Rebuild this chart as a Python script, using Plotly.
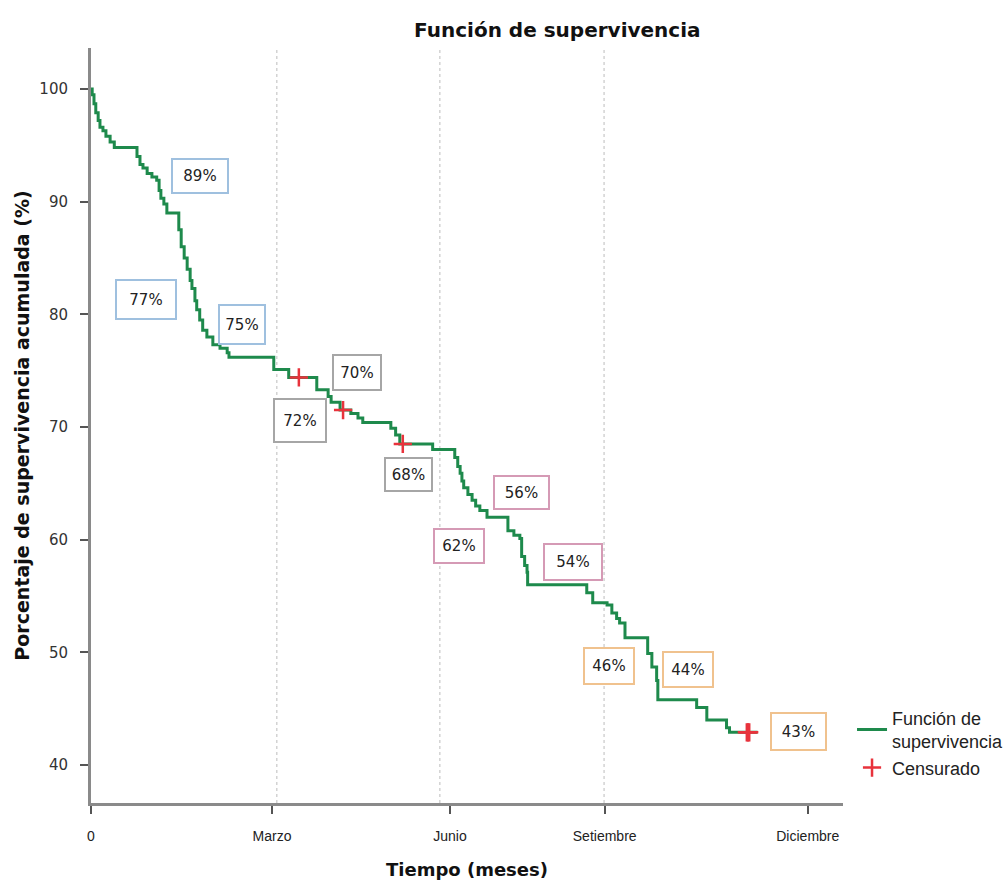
import plotly.graph_objects as go

# ---- data (time in months, survival in %) ----
time_months = [0.00, 0.02, 0.05, 0.08, 0.12, 0.15, 0.20, 0.25, 0.32, 0.39,
               0.77, 0.82, 0.87, 0.94, 1.02, 1.10, 1.14, 1.17, 1.22, 1.27,
               1.47, 1.51, 1.56, 1.61, 1.66, 1.69, 1.74, 1.77, 1.82, 1.87,
               1.94, 2.04, 2.16, 2.28, 2.31, 3.06, 3.31, 3.78, 3.97, 4.02,
               4.17, 4.35, 4.47, 4.55, 5.02, 5.10, 5.17, 5.72, 6.09, 6.14,
               6.18, 6.21, 6.24, 6.31, 6.38, 6.44, 6.51, 6.63, 6.98, 7.08,
               7.18, 7.21, 7.26, 7.30, 7.31, 8.30, 8.40, 8.64, 8.72, 8.80,
               8.85, 8.94, 9.32, 9.39, 9.47, 9.49, 10.14, 10.31, 10.64, 10.69,
               11.16]
survival = [100.0, 99.5, 98.7, 97.9, 97.2, 96.6, 96.3, 95.8, 95.3, 94.8,
            94.0, 93.3, 93.0, 92.5, 92.2, 91.9, 91.0, 90.3, 89.8, 89.0,
            87.5, 86.0, 85.0, 84.0, 83.0, 82.3, 81.2, 80.4, 79.5, 78.6,
            78.0, 77.3, 77.0, 76.6, 76.2, 75.1, 74.4, 73.3, 72.7, 72.2,
            71.5, 71.2, 70.8, 70.4, 69.9, 69.3, 68.5, 68.0, 67.3, 66.5,
            65.9, 65.2, 64.6, 64.0, 63.5, 63.0, 62.6, 62.0, 60.8, 60.4,
            60.1, 58.5, 57.7, 57.1, 56.0, 55.3, 54.4, 54.2, 53.5, 53.0,
            52.6, 51.3, 49.9, 48.7, 47.5, 45.8, 45.1, 44.0, 43.3, 42.9,
            42.9]

censor_months = [3.48, 4.22, 5.22, 10.98, 11.00, 11.02]
censor_surv = [74.4, 71.5, 68.5, 42.9, 42.9, 42.9]

label_texts = ["89%", "77%", "75%", "70%", "72%", "68%",
               "56%", "62%", "54%", "46%", "44%", "43%"]
label_x = [1.82, 0.92, 2.53, 4.45, 3.50, 5.32, 7.21, 6.16, 8.07, 8.67, 9.99, 11.85]
label_y = [92.3, 81.3, 79.1, 74.8, 70.6, 65.8, 64.2, 59.4, 58.0, 48.8, 48.5, 43.0]

tick_vals = [0, 3.03, 6.01, 8.60, 12.0]
tick_text = ["0", "Marzo", "Junio", "Setiembre", "Diciembre"]
grid_x = [3.11, 5.84, 8.59]

# ---- styles ----
box_colors = ["#9fc0df"] * 3 + ["#a6a6a6"] * 3 + ["#d59ab5"] * 3 + ["#f0c28e"] * 3
box_w = [48, 52, 38, 40, 44, 39, 47, 42, 50, 42, 42, 47]
box_h = [26, 31, 31, 27, 35, 25, 25, 26, 28, 28, 27, 29]

fig = go.Figure()
fig.add_trace(go.Scatter(
    x=time_months, y=survival, mode="lines", line_shape="hv",
    line=dict(color="#1e8a4c", width=3),
    name="Función de<br>supervivencia"))
fig.add_trace(go.Scatter(
    x=censor_months, y=censor_surv, mode="markers",
    marker=dict(symbol="cross-thin", size=13, line=dict(color="#e8333c", width=2.5)),
    name="Censurado"))

for gx in grid_x:
    fig.add_shape(type="line", xref="x", yref="paper", x0=gx, x1=gx, y0=0, y1=1,
                  line=dict(color="#d3d3d3", width=1.5, dash="dot"), layer="below")

for t, x, y, c, w, h in zip(label_texts, label_x, label_y, box_colors, box_w, box_h):
    fig.add_annotation(x=x, y=y, text=t, showarrow=False,
                       font=dict(family="DejaVu Sans", size=15, color="#222"),
                       bordercolor=c, borderwidth=2, borderpad=3,
                       bgcolor="white", width=w, height=h)

fig.update_layout(
    width=1006, height=884,
    margin=dict(l=91, r=163, t=48, b=81, autoexpand=False),
    plot_bgcolor="white", paper_bgcolor="white",
    title=dict(text="<b>Función de supervivencia</b>", x=0.554, xanchor="center",
               y=0.966, yanchor="middle",
               font=dict(family="DejaVu Sans", size=20, color="#111")),
    xaxis=dict(range=[0, 12.59], tickmode="array", tickvals=tick_vals, ticktext=tick_text,
               showgrid=False, zeroline=False, showline=True, linecolor="#8a8a8a",
               linewidth=3, ticks="outside", ticklen=8, tickwidth=2, tickcolor="#555",
               ticklabelstandoff=10, automargin=False,
               tickfont=dict(family="Liberation Sans", size=14, color="#222"),
               title=dict(text="<b>Tiempo (meses)</b>", standoff=21,
                          font=dict(family="DejaVu Sans", size=18, color="#111"))),
    yaxis=dict(range=[36.63, 103.64], tickmode="array", tickvals=[40, 50, 60, 70, 80, 90, 100],
               showgrid=False, zeroline=False, showline=True, linecolor="#8a8a8a",
               linewidth=3, ticks="outside", ticklen=8, tickwidth=2, tickcolor="#555",
               ticklabelstandoff=9, automargin=False,
               tickfont=dict(family="DejaVu Sans", size=15, color="#333"),
               title=dict(text="<b>Porcentaje de supervivencia acumulada (%)</b>", standoff=5,
                          font=dict(family="DejaVu Sans", size=19, color="#111"))),
    legend=dict(x=1.012, y=0.137, xanchor="left", yanchor="top",
                font=dict(family="Liberation Sans", size=18, color="#222"),
                bgcolor="rgba(0,0,0,0)", itemwidth=30, tracegroupgap=0),
)

fig.write_html("out.html", config={"displayModeBar": False},
               post_script="document.body.style.margin='0';document.body.style.overflow='hidden';")
